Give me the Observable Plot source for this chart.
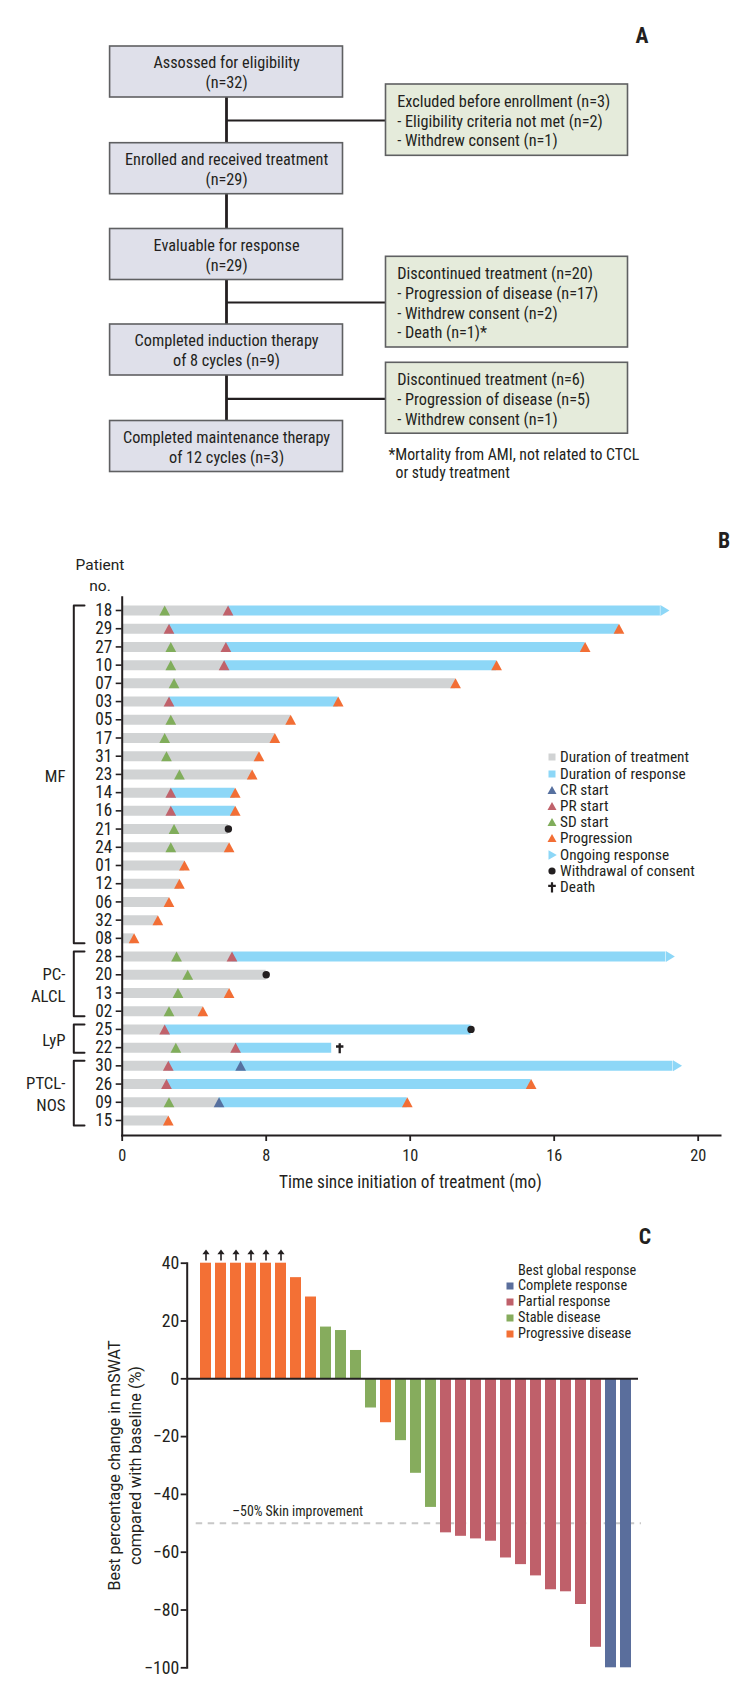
<!DOCTYPE html>
<html>
<head>
<meta charset="utf-8">
<script src="https://cdn.jsdelivr.net/npm/d3@7"></script>
<script src="https://cdn.jsdelivr.net/npm/@observablehq/plot@0.6"></script>
<style>
  html, body { margin: 0; padding: 0; background: #fff; }
  #root { position: relative; width: 750px; height: 1699px; overflow: hidden; color: #231f20; }
  .panel { position: absolute; left: 0; }
  .letter { position: absolute; font-weight: bold; font-size: 22px; line-height: 22px; }
  .lrow { position: absolute; height: 16px; }
  .lrow svg { position: absolute; top: 2px; }
  .ltxt { position: absolute; white-space: nowrap; line-height: 16px; top: 0; display: inline-block; transform-origin: 0 50%; }
</style>
</head>
<body>
<div id="root"></div>
<script>
// ======================= DATA =======================
// ---- Panel A : flow diagram ----
const flowMainText = [
  "Assossed for eligibility\n(n=32)",
  "Enrolled and received treatment\n(n=29)",
  "Evaluable for response\n(n=29)",
  "Completed induction therapy\nof 8 cycles (n=9)",
  "Completed maintenance therapy\nof 12 cycles (n=3)"
];
const flowSideText = [
  "Excluded before enrollment (n=3)\n- Eligibility criteria not met (n=2)\n- Withdrew consent (n=1)",
  "Discontinued treatment (n=20)\n- Progression of disease (n=17)\n- Withdrew consent (n=2)\n- Death (n=1)*",
  "Discontinued treatment (n=6)\n- Progression of disease (n=5)\n- Withdrew consent (n=1)"
];
const flowFootnote = ["*Mortality from AMI, not related to CTCL", "or study treatment"];

// ---- Panel B : swimmer plot ----
const patients = ["18","29","27","10","07","03","05","17","31","23","14","16","21","24","01","12","06","32","08",
                  "28","20","13","02","25","22","30","26","09","15"];
const patientGroup = [
  "MF","MF","MF","MF","MF","MF","MF","MF","MF","MF","MF","MF","MF","MF","MF","MF","MF","MF","MF",
  "PC-ALCL","PC-ALCL","PC-ALCL","PC-ALCL","LyP","LyP","PTCL-NOS","PTCL-NOS","PTCL-NOS","PTCL-NOS"];
const groupNames = ["MF", "PC-ALCL", "LyP", "PTCL-NOS"];
const groupLabels = ["MF", "PC-\nALCL", "LyP", "PTCL-\nNOS"];
const sdStart = [1.18, null, 1.35, 1.35, 1.44, null, 1.35, 1.18, 1.23, 1.59, null, null, 1.44, 1.35, null, null, null, null, null,
                 1.51, 1.82, 1.55, 1.30, null, 1.49, null, null, 1.30, null];
const prStart = [2.94, 1.30, 2.88, 2.83, null, 1.30, null, null, null, null, 1.35, 1.35, null, null, null, null, null, null, null,
                 3.05, null, null, null, 1.18, 3.15, 1.28, 1.23, null, null];
const crStart = [null, null, null, null, null, null, null, null, null, null, null, null, null, null, null, null, null, null, null,
                 null, null, null, null, null, null, 3.29, null, 2.69, null];
const endTime = [14.95, 13.80, 12.86, 10.40, 9.26, 6.00, 4.68, 4.24, 3.80, 3.61, 3.14, 3.14, 2.95, 2.97, 1.73, 1.59, 1.30, 0.99, 0.33,
                 15.10, 4.00, 2.97, 2.24, 9.69, 5.82, 15.30, 11.36, 7.92, 1.28];
const endEvent = [
  "Ongoing response","Progression","Progression","Progression","Progression","Progression","Progression","Progression",
  "Progression","Progression","Progression","Progression","Withdrawal of consent","Progression","Progression","Progression",
  "Progression","Progression","Progression",
  "Ongoing response","Withdrawal of consent","Progression","Progression",
  "Withdrawal of consent","Death",
  "Ongoing response","Progression","Progression","Progression"];
const xTickValues = [0, 4, 8, 12, 16];
const xTickLabels = ["0", "8", "10", "16", "20"];
const xTitleB = "Time since initiation of treatment (mo)";
const legendBLabels = ["Duration of treatment", "Duration of response", "CR start", "PR start", "SD start",
                       "Progression", "Ongoing response", "Withdrawal of consent", "Death"];

// ---- Panel C : waterfall ----
const bestChange = [40, 40, 40, 40, 40, 40, 35, 28.3, 17.9, 16.7, 9.8, -10.1, -15.2, -21.4, -32.7, -44.5,
                    -53.3, -54.5, -55.4, -56.2, -62.0, -64.3, -68.2, -73.0, -73.7, -78.1, -92.9, -100, -100];
const bestResponse = [
  "Progressive disease","Progressive disease","Progressive disease","Progressive disease","Progressive disease",
  "Progressive disease","Progressive disease","Progressive disease",
  "Stable disease","Stable disease","Stable disease","Stable disease","Progressive disease",
  "Stable disease","Stable disease","Stable disease",
  "Partial response","Partial response","Partial response","Partial response","Partial response","Partial response",
  "Partial response","Partial response","Partial response","Partial response","Partial response",
  "Complete response","Complete response"];
const beyondAxis = [true, true, true, true, true, true, false, false, false, false, false, false, false, false, false,
                    false, false, false, false, false, false, false, false, false, false, false, false, false, false];
const responseNames = ["Complete response", "Partial response", "Stable disease", "Progressive disease"];
const yTicksC = [-100, -80, -60, -40, -20, 0, 20, 40];
const thresholdC = -50;
const thresholdLabel = "\u201350% Skin improvement";
const yTitleC = ["Best percentage change in mSWAT", "compared with baseline (%)"];
const legendCTitle = "Best global response";

// ======================= STYLE / LAYOUT =======================
const INK = "#231f20";
const NARROW = '"Roboto Condensed", "Liberation Sans Narrow", "DejaVu Sans Condensed", "Arial Narrow", Roboto, sans-serif';
const REGULAR = 'Roboto, "Liberation Sans", Arial, Helvetica, sans-serif';
const COL = {gray: "#d1d3d4", blue: "#8dd7f7", cr: "#56709f", pr: "#c0626b", sd: "#80ad5b", prog: "#f26e35",
             boxMain: "#dfe0ea", boxSide: "#e5ebdb", boxStroke: "#5f6062"};
const respColors = ["#5a6e9c", "#bf606a", "#86ac5d", "#f37035"];
// rendered lengths (px) of the rotated y-title lines of panel C
const yTitleCLength = [250, 199];

// horizontal condensation factor so that the available narrow font matches the condensed face of the original
const K = (() => {
  const ctx = document.createElement("canvas").getContext("2d");
  ctx.font = `16.5px ${NARROW}`;
  const w = ctx.measureText("Excluded before enrollment (n=3)").width;
  return Math.min(1, 213 / w);
})();
const fixedLengths = new Map(yTitleC.map((t, i) => [t, yTitleCLength[i]]));

const root = document.getElementById("root");
function condense(svg) {
  svg.querySelectorAll("text").forEach(t => {
    const tspans = t.querySelectorAll("tspan");
    const els = tspans.length ? Array.from(tspans) : [t];
    const fam = getComputedStyle(t).fontFamily || "";
    els.forEach(el => {
      const fixed = fixedLengths.get(el.textContent);
      if (fixed) { el.setAttribute("textLength", fixed); el.setAttribute("lengthAdjust", "spacingAndGlyphs"); return; }
      if (!fam.includes("Condensed")) return;
      const w = el.getComputedTextLength();
      if (w > 0 && K < 0.999) { el.setAttribute("textLength", (w * K).toFixed(2)); el.setAttribute("lengthAdjust", "spacingAndGlyphs"); }
    });
  });
}
function place(node, top) {
  const div = document.createElement("div");
  div.className = "panel"; div.style.top = top + "px";
  div.appendChild(node); root.appendChild(div);
  condense(node);
}

// custom glyphs
const symUp = {draw(ctx, size) { const r = Math.sqrt(size / Math.PI);
  ctx.moveTo(0, -r); ctx.lineTo(1.07 * r, r); ctx.lineTo(-1.07 * r, r); ctx.closePath(); }};
const symRight = {draw(ctx, size) { const r = Math.sqrt(size / Math.PI);
  ctx.moveTo(0, -r); ctx.lineTo(1.65 * r, 0); ctx.lineTo(0, r); ctx.closePath(); }};
const symCross = {draw(ctx, size) { const r = Math.sqrt(size / Math.PI), w = 0.23 * r;
  ctx.moveTo(-w, -0.9 * r); ctx.lineTo(w, -0.9 * r); ctx.lineTo(w, 1.1 * r); ctx.lineTo(-w, 1.1 * r); ctx.closePath();
  ctx.moveTo(-0.74 * r, -0.46 * r); ctx.lineTo(0.74 * r, -0.46 * r); ctx.lineTo(0.74 * r, 0.0); ctx.lineTo(-0.74 * r, 0.0); ctx.closePath(); }};
const symArrowUp = {draw(ctx) {
  ctx.moveTo(-0.8, -2.7); ctx.lineTo(-0.8, -9); ctx.lineTo(-3.6, -9); ctx.lineTo(0, -13.7);
  ctx.lineTo(3.6, -9); ctx.lineTo(0.8, -9); ctx.lineTo(0.8, -2.7); ctx.closePath(); }};

// ======================= PANEL A =======================
const LA = {mainX1: 109.6, mainX2: 342.5, mainTop: [46, 142.7, 228.5, 324, 420.5], mainH: 51,
            sideX1: 385.5, sideX2: 627.5, sideY: [[84, 155.3], [256.3, 347], [362.3, 433.2]],
            spineX: 226, branchY: [120, 302, 398.3], textPad: 11.2,
            footX: [388, 395], footY: [454, 472.7]};
const mainBoxes = flowMainText.map((text, i) => ({text, x1: LA.mainX1, x2: LA.mainX2,
  y1: LA.mainTop[i], y2: LA.mainTop[i] + LA.mainH}));
const sideBoxes = flowSideText.map((text, i) => ({text, x1: LA.sideX1, x2: LA.sideX2,
  y1: LA.sideY[i][0], y2: LA.sideY[i][1]}));
const footRows = flowFootnote.map((text, i) => ({text, x: LA.footX[i], y: LA.footY[i]}));

const plotA = Plot.plot({
  width: 750, height: 490, margin: 0,
  x: {type: "identity", axis: null}, y: {type: "identity", axis: null},
  style: {fontFamily: NARROW, fontSize: "16.5px", color: INK, background: "transparent"},
  marks: [
    Plot.ruleX([LA.spineX], {y1: LA.mainTop[0] + LA.mainH, y2: LA.mainTop[4], stroke: INK, strokeWidth: 2.8}),
    Plot.ruleY(LA.branchY, {x1: LA.spineX, x2: LA.sideX1, stroke: INK, strokeWidth: 2.2}),
    Plot.rect(mainBoxes, {x1: "x1", x2: "x2", y1: "y1", y2: "y2", fill: COL.boxMain, stroke: COL.boxStroke, strokeWidth: 1.6}),
    Plot.rect(sideBoxes, {x1: "x1", x2: "x2", y1: "y1", y2: "y2", fill: COL.boxSide, stroke: COL.boxStroke, strokeWidth: 1.6}),
    Plot.text(mainBoxes, {x: d => (d.x1 + d.x2) / 2, y: d => (d.y1 + d.y2) / 2, text: "text",
      fontSize: 16.5, lineHeight: 1.21}),
    Plot.text(sideBoxes, {x: d => d.x1 + LA.textPad, y: d => (d.y1 + d.y2) / 2, text: "text",
      textAnchor: "start", fontSize: 16.5, lineHeight: 1.21}),
    Plot.text(footRows, {x: "x", y: "y", text: "text", textAnchor: "start", fontSize: 16})
  ]
});
place(plotA, 0);

// ======================= PANEL B =======================
const LB = {height: 705, marginLeft: 121.7, marginRight: 30, marginTop: 106.7, marginBottom: 60,
            xMax: 16.62, yTopPad: 0.73, yBottomPad: 0.824, barPx: 10, bracketPx: -48.4, serifPx: -37.7,
            groupLabelPx: -56.7, deathDx: 8};
const pxPerUnitB = (750 - LB.marginRight - LB.marginLeft) / LB.xMax;
const rowPx = (LB.height - LB.marginTop - LB.marginBottom) / (patients.length - 1 + LB.yTopPad + LB.yBottomPad);
const halfBar = LB.barPx / 2 / rowPx;

const rows = patients.map((pt, i) => {
  const resp = [prStart[i], crStart[i]].filter(v => v != null);
  return {pt, i, group: patientGroup[i], sd: sdStart[i], pr: prStart[i], cr: crStart[i],
          end: endTime[i], event: endEvent[i], respStart: resp.length ? Math.min(...resp) : null};
});
const groupInfo = groupNames.map((g, k) => {
  const idx = rows.filter(r => r.group === g).map(r => r.i);
  return {group: g, label: groupLabels[k], first: d3.min(idx), last: d3.max(idx)};
});
const bracketPts = groupInfo.flatMap(g => [
  {group: g.group, x: LB.serifPx / pxPerUnitB, y: g.first - halfBar},
  {group: g.group, x: LB.bracketPx / pxPerUnitB, y: g.first - halfBar},
  {group: g.group, x: LB.bracketPx / pxPerUnitB, y: g.last + halfBar},
  {group: g.group, x: LB.serifPx / pxPerUnitB, y: g.last + halfBar}]);

const plotB = Plot.plot({
  width: 750, height: LB.height,
  marginLeft: LB.marginLeft, marginRight: LB.marginRight, marginTop: LB.marginTop, marginBottom: LB.marginBottom,
  style: {fontFamily: NARROW, fontSize: "17px", color: INK, background: "transparent", overflow: "visible"},
  x: {domain: [0, LB.xMax]},
  y: {domain: [patients.length - 1 + LB.yBottomPad, -LB.yTopPad]},
  marks: [
    Plot.ruleY(rows, {y: "i", x1: 0, x2: d => d.respStart ?? d.end, stroke: COL.gray, strokeWidth: LB.barPx}),
    Plot.ruleY(rows.filter(d => d.respStart != null), {y: "i", x1: "respStart", x2: "end", stroke: COL.blue, strokeWidth: LB.barPx}),
    Plot.dot(rows.filter(d => d.event === "Ongoing response"), {x: "end", y: "i", symbol: symRight, r: 5.5, fill: COL.blue, stroke: "none"}),
    Plot.dot(rows.filter(d => d.sd != null), {x: "sd", y: "i", symbol: symUp, r: 5, fill: COL.sd, stroke: "none"}),
    Plot.dot(rows.filter(d => d.pr != null), {x: "pr", y: "i", symbol: symUp, r: 5, fill: COL.pr, stroke: "none"}),
    Plot.dot(rows.filter(d => d.cr != null), {x: "cr", y: "i", symbol: symUp, r: 5, fill: COL.cr, stroke: "none"}),
    Plot.dot(rows.filter(d => d.event === "Progression"), {x: "end", y: "i", symbol: symUp, r: 5, fill: COL.prog, stroke: "none"}),
    Plot.dot(rows.filter(d => d.event === "Withdrawal of consent"), {x: "end", y: "i", r: 3.7, fill: INK, stroke: "none"}),
    Plot.dot(rows.filter(d => d.event === "Death"), {x: "end", y: "i", symbol: symCross, r: 5, fill: INK, stroke: "none", dx: LB.deathDx}),
    Plot.line(bracketPts, {x: "x", y: "y", z: "group", stroke: INK, strokeWidth: 2}),
    Plot.text(groupInfo, {x: 0, y: d => (d.first + d.last) / 2, text: "label", textAnchor: "end",
      dx: LB.groupLabelPx, fontSize: 17, lineHeight: 1.3}),
    Plot.text(["Patient\nno."], {frameAnchor: "top-left", dx: -22.2, dy: -23, textAnchor: "middle", lineAnchor: "middle",
      fontFamily: REGULAR, fontSize: 15.5, lineHeight: 1.33}),
    Plot.text([xTitleB], {frameAnchor: "bottom", dx: -11, dy: 46.7, lineAnchor: "middle", fontSize: 17.5}),
    Plot.frame({anchor: "left", strokeWidth: 2}),
    Plot.frame({anchor: "bottom", strokeWidth: 2}),
    Plot.axisY({ticks: d3.range(patients.length), tickFormat: i => patients[i], tickSize: 6, tickPadding: 4,
      label: null, fontSize: 17.5, strokeWidth: 1.6}),
    Plot.axisX({ticks: xTickValues, tickFormat: d => xTickLabels[xTickValues.indexOf(d)], tickSize: 6, tickPadding: 8,
      label: null, fontSize: 16.5, strokeWidth: 1.8})
  ]
});
place(plotB, 490);

// ======================= PANEL C =======================
const LC = {height: 504, marginLeft: 186.7, marginRight: 106, marginTop: 67.7, marginBottom: 31.7};
const wf = bestChange.map((value, i) => ({i, value, resp: bestResponse[i], beyond: beyondAxis[i]}));
const plotC = Plot.plot({
  width: 750, height: LC.height,
  marginLeft: LC.marginLeft, marginRight: LC.marginRight, marginTop: LC.marginTop, marginBottom: LC.marginBottom,
  style: {fontFamily: NARROW, fontSize: "18px", color: INK, background: "transparent", overflow: "visible"},
  x: {type: "band", domain: d3.range(bestChange.length), paddingInner: 0.3, paddingOuter: 0.654, axis: null},
  y: {domain: [-100, 40]},
  color: {domain: responseNames, range: respColors},
  marks: [
    Plot.ruleY([thresholdC], {stroke: "#c8c8c8", strokeWidth: 2, strokeDasharray: "6.5,5.5", insetLeft: 9, insetRight: 3}),
    Plot.barY(wf, {x: "i", y: "value", fill: "resp"}),
    Plot.ruleY([0], {stroke: INK, strokeWidth: 2, insetRight: 6}),
    Plot.dot(wf.filter(d => d.beyond), {x: "i", y: "value", symbol: symArrowUp, fill: INK, stroke: "none"}),
    Plot.text([thresholdLabel], {frameAnchor: "left", y: thresholdC, dx: 45, dy: -12, textAnchor: "start", fontSize: 14}),
    Plot.text([yTitleC.join("\n")], {frameAnchor: "left", rotate: -90, dx: -63.4, textAnchor: "middle", lineAnchor: "middle",
      fontFamily: REGULAR, fontSize: 16, lineHeight: 1.3}),
    Plot.frame({anchor: "left", strokeWidth: 2}),
    Plot.axisY({ticks: yTicksC, tickSize: 6, tickPadding: 2, label: null, fontSize: 18, strokeWidth: 1.8})
  ]
});
place(plotC, 1195);

// ======================= LEGENDS & LETTERS =======================
function iconSVG(kind, color) {
  let s;
  if (kind === "square") s = `<rect x="2.5" y="2.5" width="7" height="7" fill="${color}"/>`;
  else if (kind === "up") s = `<path d="M1.5,10L6,2L10.5,10Z" fill="${color}"/>`;
  else if (kind === "right") s = `<path d="M2.5,1.2L10.8,6L2.5,10.8Z" fill="${color}"/>`;
  else if (kind === "dot") s = `<circle cx="6" cy="6" r="3.6" fill="${color}"/>`;
  else if (kind === "cross") s = `<path d="M4.9,1.2H7.1V11.5H4.9Z M2.2,3.8H9.8V6H2.2Z" fill="${color}"/>`;
  return `<svg width="12" height="12" viewBox="0 0 12 12">${s}</svg>`;
}
function textNode(txt, left, top, fontSize, extra = "") {
  const s = document.createElement("div");
  s.className = "ltxt"; s.textContent = txt;
  s.style.cssText += `left:${left}px;top:${top}px;font-size:${fontSize}px;font-family:${NARROW};transform:scaleX(${K});${extra}`;
  return s;
}
function legend(items, {iconX, textX, firstY, step, fontSize, title, titleY}) {
  if (title) root.appendChild(textNode(title, textX, titleY - 8, fontSize));
  items.forEach((it, k) => {
    const row = document.createElement("div");
    row.className = "lrow";
    row.style.left = (iconX - 6) + "px"; row.style.top = (firstY + k * step - 8) + "px";
    row.innerHTML = iconSVG(it.kind, it.color);
    row.appendChild(textNode(it.label, textX - iconX + 6, 0, fontSize));
    root.appendChild(row);
  });
}
const legendBKinds = ["square", "square", "up", "up", "up", "up", "right", "dot", "cross"];
const legendBColors = [COL.gray, COL.blue, COL.cr, COL.pr, COL.sd, COL.prog, COL.blue, INK, INK];
legend(legendBLabels.map((label, k) => ({label, kind: legendBKinds[k], color: legendBColors[k]})),
  {iconX: 551.5, textX: 560, firstY: 757.3, step: 16.2, fontSize: 15.5});
legend(responseNames.map((label, k) => ({label, kind: "square", color: respColors[k]})),
  {iconX: 509.5, textX: 518, firstY: 1285.7, step: 16.1, fontSize: 14.5, title: legendCTitle, titleY: 1270.5});

[["A", 642, 36], ["B", 724, 541], ["C", 645, 1237]].forEach(([t, x, y]) => {
  const d = document.createElement("div");
  d.className = "letter"; d.textContent = t;
  d.style.cssText += `left:${x}px;top:${y}px;font-family:${NARROW};transform:translate(-50%,-50%) scaleX(${K});`;
  root.appendChild(d);
});
</script>
</body>
</html>
